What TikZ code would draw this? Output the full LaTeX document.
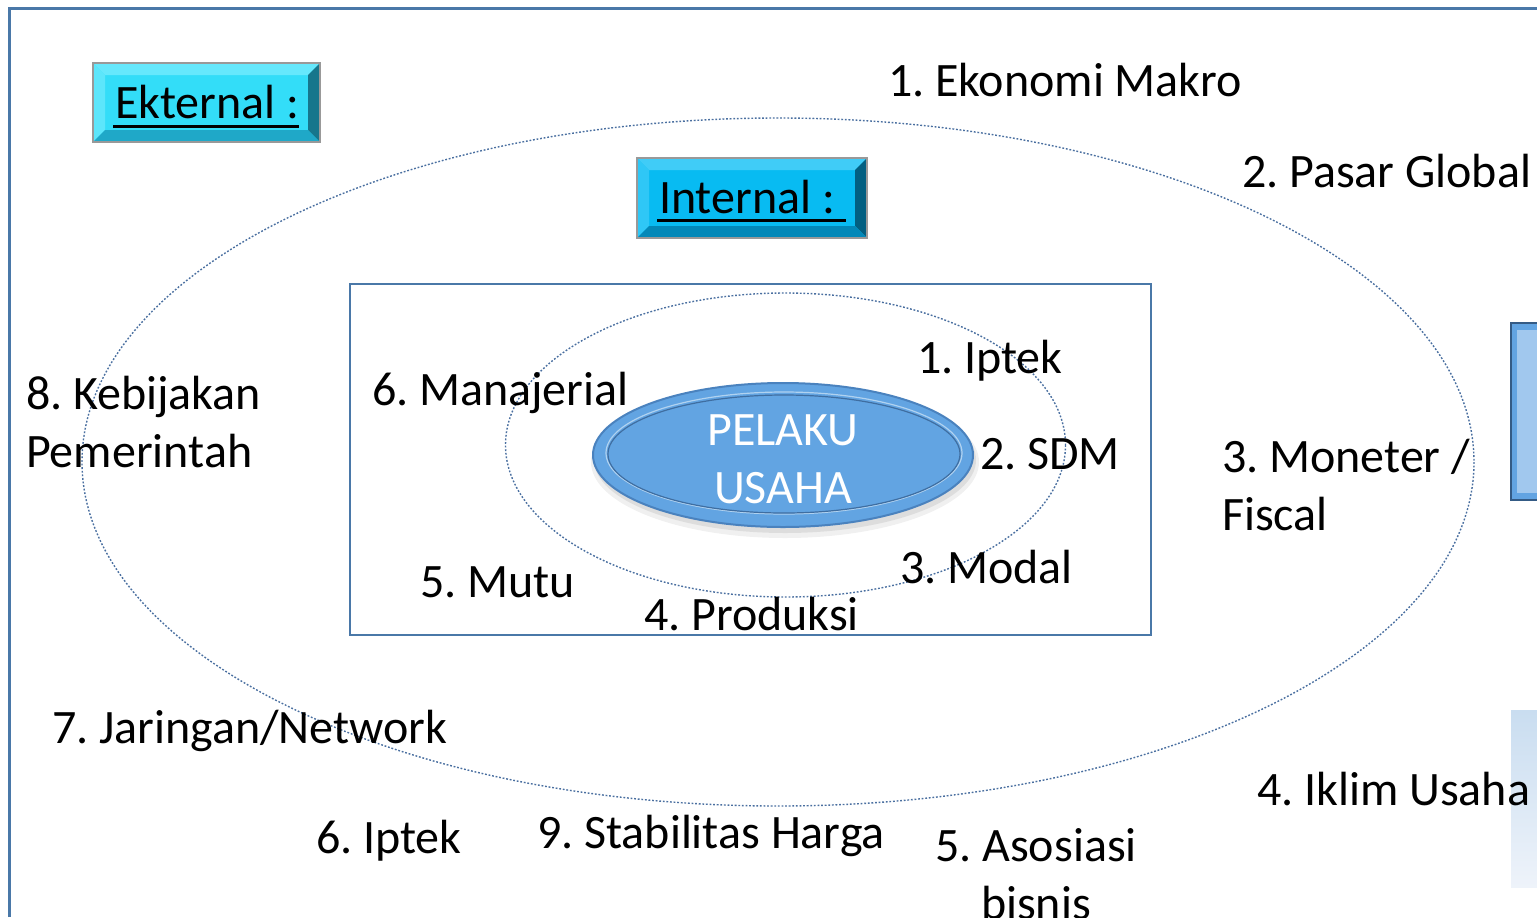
\documentclass[tikz,border=0pt]{standalone}
\usepackage{fontspec}
\setmainfont{Carlito}
\frenchspacing
\definecolor{framec}{HTML}{4A78A8}
\definecolor{dotc}{HTML}{4A6FA0}
\definecolor{extface}{HTML}{33DDF8}
\definecolor{extlight}{HTML}{66E8FC}
\definecolor{extdark}{HTML}{1FA8C8}
\definecolor{intface}{HTML}{08BBF2}
\definecolor{intlight}{HTML}{40CCF7}
\definecolor{intdark}{HTML}{0388B8}
\definecolor{pelfill}{HTML}{62A4E2}
\definecolor{pelborder}{HTML}{4A82BE}
\definecolor{sideblue}{HTML}{62A4E2}
\definecolor{paletop}{HTML}{C9DDF0}
\definecolor{palebot}{HTML}{EEF3FA}
\begin{document}
\begin{tikzpicture}[x=0.5pt,y=-0.5pt,
  every node/.style={inner sep=0pt,outer sep=0pt},
  lbl/.style={anchor=base west,font=\fontsize{24}{29}\selectfont},
  lblc/.style={anchor=base,font=\fontsize{24}{29}\selectfont,align=center},
  dotell/.style={draw=dotc,line width=0.7pt,dash pattern=on 0.9pt off 0.9pt},
  bevelborder/.style={draw=gray!80,line width=0.8pt}]
\useasboundingbox (0,0) rectangle (1537,917);
% outer frame
\draw[framec,line width=1.5pt] (9,917) -- (9,8) -- (1537,8);
% outer dotted ellipse
\draw[dotell] (778,462) ellipse [x radius=696,y radius=344];
% inner rectangle
\draw[framec,line width=1pt] (350,284) rectangle (1151,635);
% inner dotted ellipse
\draw[dotell] (785.5,445) ellipse [x radius=280,y radius=152];
% Ekternal bevel box
\fill[extface] (93,63) rectangle (320,142);
\fill[extlight] (93,63) -- (320,63) -- (308,75) -- (105,75) -- cycle;
\fill[extlight!80!extface] (93,63) -- (105,75) -- (105,130) -- (93,142) -- cycle;
\fill[extdark!70!black] (320,63) -- (320,142) -- (308,130) -- (308,75) -- cycle;
\fill[extdark] (93,142) -- (320,142) -- (308,130) -- (105,130) -- cycle;
\draw[bevelborder] (93,63) rectangle (320,142);
\node[lbl] (ekst) at (115,118) {Ekternal :};
\draw[line width=1.5pt] (113,126.5) -- (299,126.5);
% Internal bevel box
\fill[intface] (637,158) rectangle (867,238);
\fill[intlight] (637,158) -- (867,158) -- (855,170) -- (649,170) -- cycle;
\fill[intlight!70!intface] (637,158) -- (649,170) -- (649,226) -- (637,238) -- cycle;
\fill[intdark!70!black] (867,158) -- (867,238) -- (855,226) -- (855,170) -- cycle;
\fill[intdark] (637,238) -- (867,238) -- (855,226) -- (649,226) -- cycle;
\draw[bevelborder] (637,158) rectangle (867,238);
\node[lbl] (inte) at (659,213) {Internal :};
\draw[line width=1.5pt] (657,220.5) -- (846,220.5);
% PELAKU USAHA
\fill[black,opacity=0.06] (785,462) ellipse [x radius=194,y radius=76];
\fill[black,opacity=0.08] (785,460) ellipse [x radius=191,y radius=73];
\draw[fill=pelfill,draw=pelborder,line width=1pt] (783,455) ellipse [x radius=190,y radius=72];
\draw[white!50!pelfill,line width=0.6pt] (784,453) ellipse [x radius=178,y radius=61];
\draw[pelborder!85!black,line width=0.6pt] (784,454) ellipse [x radius=176,y radius=59];
\node[lblc,text=white] (pelaku) at (783,503) {PELAKU\\USAHA};
% right edge shapes
\fill[sideblue] (1511,323) rectangle (1537,500);
\fill[sideblue!60!white] (1517,330) rectangle (1537,493);
\draw[pelborder!70!black,line width=0.8pt] (1537,323) -- (1511,323) -- (1511,500) -- (1537,500);
\shade[top color=paletop,bottom color=palebot] (1511,710) rectangle (1537,887);
% external labels
\node[lbl] (e1) at (888,96) {1. Ekonomi Makro};
\node[lbl] (e2) at (1242,187) {2. Pasar Global};
\node[lbl,align=left] (e3) at (1222,530) {3. Moneter /\\Fiscal};
\node[lbl] (e4) at (1257,805) {4. Iklim Usaha};
\node[lblc] (e5) at (1036,919) {5. Asosiasi\\bisnis};
\node[lbl] (e6) at (316,853) {6. Iptek};
\node[lbl] (e7) at (52,743) {7. Jaringan/Network};
\node[lbl,align=left] (e8) at (26,467) {8. Kebijakan\\Pemerintah};
\node[lbl] (e9) at (537,848) {9. Stabilitas Harga};
% internal labels
\node[lbl] (i1) at (917,373) {1. Iptek};
\node[lbl] (i2) at (980,469) {2. SDM};
\node[lbl] (i3) at (900,583) {3. Modal};
\node[lbl] (i4) at (644,630) {4. Produksi};
\node[lbl] (i5) at (420,597) {5. Mutu};
\node[lbl] (i6) at (372,405) {6. Manajerial};
\end{tikzpicture}
\end{document}
